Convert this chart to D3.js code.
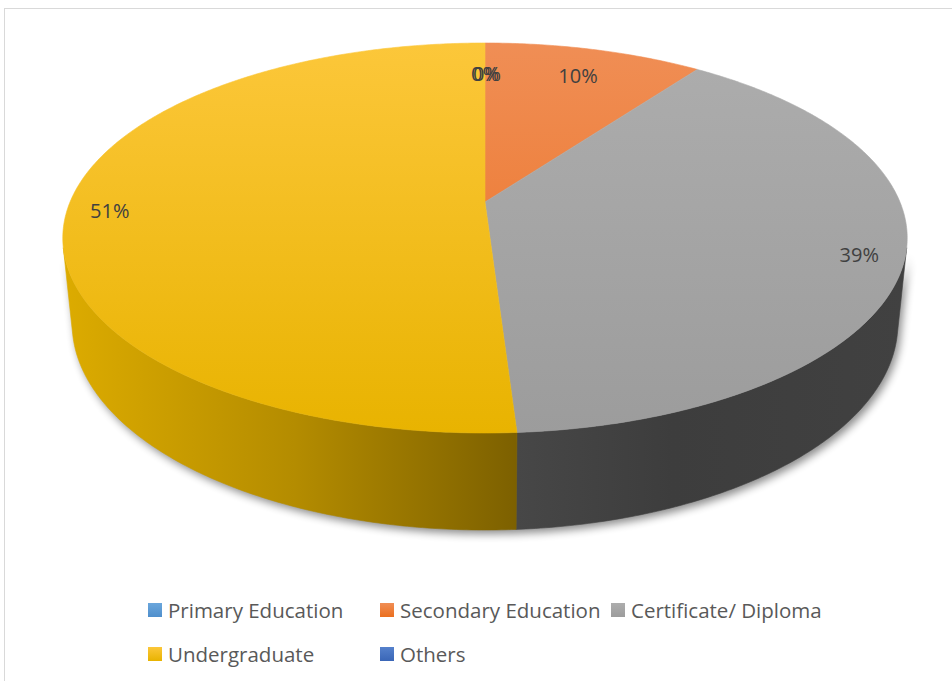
<!DOCTYPE html>
<html>
<head>
<meta charset="utf-8">
<script src="https://cdn.jsdelivr.net/npm/d3@7"></script>
<style>
  html, body { margin: 0; padding: 0; background: #ffffff; }
  svg { display: block; }
</style>
</head>
<body>
<svg id="chart" width="952" height="681"></svg>
<script>
// Highest education level of respondents (share of total, %)
const categories = ["Primary Education", "Secondary Education", "Certificate/ Diploma", "Undergraduate", "Others"];
const shares = [0, 10, 39, 51, 0];
const sliceColors = ["#5b9bd5", "#ed7d31", "#a5a5a5", "#ffc000", "#4472c4"];
const labelTexts = ["0%", "10%", "39%", "51%", "0%"];

const svg = d3.select("#chart");
const W = 952, H = 681;
const defs = svg.append("defs");

// Chart frame
svg.append("rect")
  .attr("x", 4.5).attr("y", 8.5)
  .attr("width", W + 10).attr("height", H + 10)
  .attr("fill", "#ffffff")
  .attr("stroke", "#d9d9d9").attr("stroke-width", 1);

// ---- 3D perspective projection of a unit-radius disc ----
const cx = 485, cy = 202;           // screen position of the disc centre
const focal = 2003, dist = 4.827;   // focal length and camera distance
const elev = Math.asin(0.4539);     // camera elevation
const sinE = Math.sin(elev), cosE = Math.cos(elev);
const thickness = 0.2334;           // disc height in radius units

// theta measured clockwise from the far (12 o'clock) point, r in [0,1], y height
function project(theta, r, y) {
  const x = r * Math.sin(theta);
  const z = -r * Math.cos(theta);
  const v = y * cosE - z * sinE;
  const w = z * cosE + y * sinE;
  const k = focal / (dist - w);
  return [cx + x * k, cy - v * k];
}

// angular range of the outer wall that faces the camera
const visHalf = Math.acos(-1 / (dist * cosE));
const vis0 = visHalf, vis1 = 2 * Math.PI - visHalf;

const pie = d3.pie().sort(null).value(d => d).startAngle(0).endAngle(2 * Math.PI);
const arcs = pie(shares);

const line = d3.line();
function arcPoints(a0, a1, r, y) {
  const n = Math.max(2, Math.ceil(Math.abs(a1 - a0) / 0.01));
  return d3.range(n + 1).map(i => project(a0 + (a1 - a0) * i / n, r, y));
}

// ---- gradients ----
const topStops = {
  "#ed7d31": ["#f08e55", "#eb6f1f"],
  "#a5a5a5": ["#adadad", "#9c9c9c"],
  "#ffc000": ["#fcc73a", "#e8b300"],
  "#5b9bd5": ["#6aa6dc", "#4f8fcc"],
  "#4472c4": ["#5581cc", "#3a66b7"]
};
sliceColors.forEach((c, i) => {
  const g = defs.append("linearGradient").attr("id", "top" + i)
    .attr("gradientUnits", "userSpaceOnUse")
    .attr("x1", 0).attr("y1", 43).attr("x2", 0).attr("y2", 435);
  g.append("stop").attr("offset", 0).attr("stop-color", topStops[c][0]);
  g.append("stop").attr("offset", 1).attr("stop-color", topStops[c][1]);
});
const wallStops = {
  "#ffc000": [["0", "#dcab00"], ["0.5", "#b48c00"], ["1", "#7b5f00"]],
  "#a5a5a5": [["0", "#474747"], ["0.4", "#3d3d3d"], ["1", "#414141"]],
  "#ed7d31": [["0", "#a34f18"], ["1", "#7a3a10"]],
  "#5b9bd5": [["0", "#3f6d97"], ["1", "#2e5070"]],
  "#4472c4": [["0", "#30508a"], ["1", "#223a66"]]
};
sliceColors.forEach((c, i) => {
  const g = defs.append("linearGradient").attr("id", "wall" + i)
    .attr("gradientUnits", "userSpaceOnUse")
    .attr("x1", 66).attr("y1", 0).attr("x2", 906).attr("y2", 0);
  let stops = wallStops[c];
  if (c === "#ffc000") {
    g.attr("x1", 66).attr("x2", 523);
  } else if (c === "#a5a5a5") {
    g.attr("x1", 517).attr("x2", 906);
  }
  stops.forEach(s => g.append("stop").attr("offset", s[0]).attr("stop-color", s[1]));
});

// soft shadow below the disc
const blur = defs.append("filter").attr("id", "softShadow")
  .attr("x", "-10%").attr("y", "-10%").attr("width", "120%").attr("height", "130%");
blur.append("feGaussianBlur").attr("stdDeviation", 4);

const pieG = svg.append("g");

const wallOutline = arcPoints(vis0, vis1, 1, 0)
  .concat(arcPoints(vis1, vis0, 1, -thickness));
pieG.append("path")
  .attr("d", line(wallOutline) + "Z")
  .attr("transform", "translate(3,4)")
  .attr("fill", "#000")
  .attr("opacity", 0.45)
  .attr("filter", "url(#softShadow)");

// outer walls (front side of the disc)
arcs.forEach((a, i) => {
  const s = Math.max(a.startAngle, vis0), e = Math.min(a.endAngle, vis1);
  if (e <= s) return;
  const pts = arcPoints(s, e, 1, 0).concat(arcPoints(e, s, 1, -thickness));
  pieG.append("path")
    .attr("d", line(pts) + "Z")
    .attr("fill", `url(#wall${i})`)
    .attr("stroke", `url(#wall${i})`).attr("stroke-width", 0.6);
});

// top faces
arcs.forEach((a, i) => {
  if (a.endAngle - a.startAngle <= 0) return;
  const pts = [project(0, 0, 0)].concat(arcPoints(a.startAngle, a.endAngle, 1, 0));
  pieG.append("path")
    .attr("d", line(pts) + "Z")
    .attr("fill", `url(#top${i})`)
    .attr("stroke", `url(#top${i})`).attr("stroke-width", 0.6);
});

// data labels
const placed = [];
arcs.forEach((a, i) => {
  const mid = (a.startAngle + a.endAngle) / 2;
  const r = 0.8 + 0.1 * Math.abs(Math.sin(mid));
  let [lx, ly] = project(mid, r, 0);
  ly += 3;
  // nudge labels that would sit exactly on top of another one
  placed.forEach(p => {
    if (Math.abs(p[0] - lx) < 2 && Math.abs(p[1] - ly) < 2) lx += 2;
  });
  placed.push([lx, ly]);
  pieG.append("text")
    .attr("x", lx).attr("y", ly)
    .attr("text-anchor", "middle")
    .attr("dominant-baseline", "central")
    .attr("font-family", "'Open Sans', sans-serif")
    .attr("font-size", 20)
    .attr("fill", "#404040")
    .text(labelTexts[i]);
});

// ---- legend ----
const legendCols = [148, 380, 611];
const legendRows = [610, 654];
sliceColors.forEach((c, i) => {
  const g = defs.append("linearGradient").attr("id", "key" + i)
    .attr("x1", 0).attr("y1", 0).attr("x2", 0).attr("y2", 1);
  g.append("stop").attr("offset", 0).attr("stop-color", topStops[c][0]);
  g.append("stop").attr("offset", 1).attr("stop-color", topStops[c][1]);
});
const legend = svg.append("g");
categories.forEach((name, i) => {
  const col = i % 3, row = Math.floor(i / 3);
  const x = legendCols[col], y = legendRows[row];
  const item = legend.append("g").attr("transform", `translate(${x},${y})`);
  item.append("rect")
    .attr("x", 0).attr("y", -7).attr("width", 14).attr("height", 14)
    .attr("fill", `url(#key${i})`);
  item.append("text")
    .attr("x", 20).attr("y", 0)
    .attr("dominant-baseline", "central")
    .attr("font-family", "'Open Sans', sans-serif")
    .attr("font-size", 20.5)
    .attr("fill", "#595959")
    .text(name);
});
</script>
</body>
</html>
